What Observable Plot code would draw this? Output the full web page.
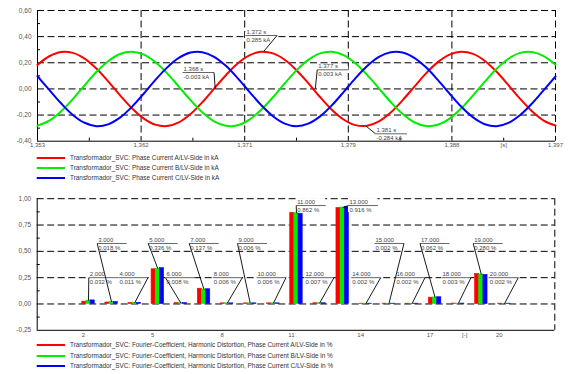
<!DOCTYPE html>
<html>
<head>
<meta charset="utf-8">
<script src="https://cdn.jsdelivr.net/npm/d3@7"></script>
<script src="https://cdn.jsdelivr.net/npm/@observablehq/plot@0.6"></script>
<style>
  html, body { margin:0; padding:0; background:#fff; }
  #page { position:relative; width:568px; height:374px; overflow:hidden; background:#fff; font-family:"Liberation Sans", Arial, sans-serif; }
  .box { position:absolute; left:0; }
  .leg { position:absolute; left:0; height:10px; width:568px; }
  .leg svg { position:absolute; left:0; top:0; }
  .leg span { position:absolute; left:70px; top:0; line-height:10px; font-size:6.4px; color:#333; white-space:nowrap; }
</style>
</head>
<body>
<div id="page"></div>
<script>
// ---------------- DATA: top chart (phase currents, kA) ----------------
const times = [1.353,1.354,1.355,1.356,1.357,1.358,1.359,1.360,1.361,1.362,1.363,1.364,1.365,1.366,1.367,
  1.368,1.369,1.370,1.371,1.372,1.373,1.374,1.375,1.376,1.377,1.378,1.379,1.380,1.381,1.382,
  1.383,1.384,1.385,1.386,1.387,1.388,1.389,1.390,1.391,1.392,1.393,1.394,1.395,1.396,1.397];
const currentA = [0.184,0.250,0.283,0.276,0.232,0.156,0.058,-0.047,-0.146,-0.225,-0.273,-0.284,-0.256,-0.192,-0.102,
  0.002,0.105,0.195,0.257,0.284,0.272,0.223,0.143,0.044,-0.062,-0.159,-0.234,-0.277,-0.282,-0.249,
  -0.181,-0.088,0.016,0.119,0.205,0.263,0.285,0.268,0.214,0.131,0.029,-0.076,-0.171,-0.242,-0.280];
const currentB = [-0.281,-0.243,-0.172,-0.078,0.027,0.129,0.212,0.267,0.285,0.264,0.206,0.121,0.018,-0.086,-0.179,
  -0.248,-0.282,-0.278,-0.235,-0.160,-0.064,0.042,0.142,0.222,0.272,0.284,0.258,0.196,0.107,0.004,
  -0.100,-0.190,-0.255,-0.284,-0.274,-0.227,-0.148,-0.049,0.056,0.154,0.231,0.276,0.283,0.251,0.185];
const currentC = [0.097,-0.007,-0.110,-0.199,-0.259,-0.285,-0.271,-0.220,-0.139,-0.039,0.067,0.163,0.237,0.278,0.281,
  0.246,0.177,0.083,-0.022,-0.124,-0.209,-0.265,-0.285,-0.266,-0.210,-0.126,-0.024,0.081,0.175,0.245,
  0.281,0.279,0.238,0.165,0.069,-0.036,-0.137,-0.218,-0.270,-0.285,-0.260,-0.200,-0.112,-0.009,0.095];
const topSeriesNames = ["Transformador_SVC: Phase Current A/LV-Side in kA",
  "Transformador_SVC: Phase Current B/LV-Side in kA",
  "Transformador_SVC: Phase Current C/LV-Side in kA"];
const topXTicks = [1.353, 1.3618, 1.3706, 1.3794, 1.3882, 1.397];
const topXLabels = ["1,353","1,362","1,371","1,379","1,388","1,397"];
const topXMinor = [1.3574, 1.3662, 1.375, 1.3838, 1.3926];
const topYTicks = [-0.4, -0.2, 0, 0.2, 0.4, 0.6];
const topYLabels = ["-0,40","-0,20","0,00","0,20","0,40","0,60"];
const topYMinor = [-0.3, -0.1, 0.1, 0.3, 0.5];
const topUnit = "[s]";
// markers read on the curves
const annotTimes = [1.3722, 1.3681, 1.3766, 1.3809];
const annotValues = [0.285, -0.003, 0.003, -0.284];

// ---------------- DATA: bottom chart (harmonic distortion, %) ----------------
const harmonics = [2,3,4,5,6,7,8,9,10,11,12,13,14,15,16,17,18,19,20];
const hdA = [0.022,0.014,0.010,0.330,0.008,0.145,0.006,0.006,0.006,0.866,0.007,0.912,0.003,0.003,0.003,0.060,0.004,0.285,0.003];
const hdB = [0.032,0.018,0.011,0.336,0.008,0.137,0.006,0.006,0.006,0.862,0.007,0.916,0.002,0.002,0.002,0.062,0.003,0.280,0.002];
const hdC = [0.034,0.018,0.011,0.340,0.008,0.140,0.006,0.006,0.006,0.856,0.007,0.922,0.003,0.003,0.003,0.064,0.004,0.277,0.003];
const hdLabelValues = [0.032,0.018,0.011,0.336,0.008,0.137,0.006,0.006,0.006,0.862,0.007,0.916,0.002,0.002,0.002,0.062,0.003,0.280,0.002];
const botSeriesNames = ["Transformador_SVC: Fourier-Coefficient, Harmonic Distortion, Phase Current A/LV-Side in %",
  "Transformador_SVC: Fourier-Coefficient, Harmonic Distortion, Phase Current B/LV-Side in %",
  "Transformador_SVC: Fourier-Coefficient, Harmonic Distortion, Phase Current C/LV-Side in %"];
const botXTicks = [2,5,8,11,14,17,20];
const botXLabels = ["2","5","8","11","14","17","20"];
const botUnit = "[-]";
const botYTicks = [-0.25, 0, 0.25, 0.5, 0.75, 1.0];
const botYLabels = ["-0,25","0,00","0,25","0,50","0,75","1,00"];
const botYMinor = [-0.125, 0.125, 0.375, 0.625, 0.875];

// ---------------- LAYOUT (label placement, not data) ----------------
const topLabelX = [1.37067, 1.36532, 1.37676, 1.38171];
const topLabelY = [0.4087, 0.1256, 0.1463, -0.3434];
const topLabelSide = ["R","R","L","L"];
const botLabelX = [2.233,2.597,3.518,4.804,5.552,6.578,7.600,8.668,9.491,11.209,11.568,13.472,13.589,14.597,15.506,16.567,17.497,18.869,19.544];
const botLabelY = [0.25,0.5745,0.25,0.5745,0.25,0.5745,0.25,0.5745,0.25,0.935,0.25,0.935,0.25,0.5745,0.25,0.5745,0.25,0.5745,0.25];
const botLabelSide = ["L","L","R","L","L","L","R","L","R","L","R","L","R","R","R","L","R","L","R"];

const COLORS = ["#ff0000", "#00ee00", "#0000ff"];
const FONT = '"Liberation Sans", Arial, sans-serif';
const DASH = "7,3.5";
const LABEL = "#555";
const page = document.getElementById("page");

function place(el, y) {
  const d = document.createElement("div");
  d.className = "box"; d.style.top = y + "px";
  d.appendChild(el); page.appendChild(d);
}
function legend(names, rowsY) {
  names.forEach((n, i) => {
    const row = document.createElement("div");
    row.className = "leg"; row.style.top = (rowsY[i] - 5) + "px";
    row.innerHTML = `<svg width="70" height="10"><line x1="36.7" x2="65" y1="5" y2="5" stroke="${COLORS[i]}" stroke-width="2"/></svg><span>${n}</span>`;
    page.appendChild(row);
  });
}

// ---------------- TOP CHART ----------------
const T = {x0:1.353, x1:1.397, y0:-0.4, y1:0.6, w:568, h:152, ml:37, mr:13, mt:10, mb:11.3};
const sxT = (T.x1 - T.x0) / (T.w - T.ml - T.mr);
const syT = (T.y1 - T.y0) / (T.h - T.mt - T.mb);
const wT = 31.5 * sxT;
const annots = annotTimes.map((t, i) => ({t, v: annotValues[i], lx: topLabelX[i], ly: topLabelY[i], side: topLabelSide[i]}));
const curves = [currentA, currentB, currentC].map((vals, j) =>
  Plot.line(times.map((t, i) => ({t, v: vals[i]})), {x: "t", y: "v", stroke: COLORS[j], strokeWidth: 2, curve: "catmull-rom"}));

const topChart = Plot.plot({
  width: T.w, height: T.h,
  marginLeft: T.ml, marginRight: T.mr, marginTop: T.mt, marginBottom: T.mb,
  x: {domain: [T.x0, T.x1], axis: null},
  y: {domain: [T.y0, T.y1], axis: null},
  style: {fontFamily: FONT, fontSize: "6.5px", overflow: "visible", background: "transparent"},
  marks: [
    Plot.ruleY(topYTicks.filter(v => v > T.y0), {stroke: "#000", strokeWidth: 1, strokeDasharray: DASH}),
    Plot.ruleX(topXTicks.filter(v => v > T.x0), {stroke: "#000", strokeWidth: 1, strokeDasharray: DASH}),
    Plot.ruleX([T.x0], {stroke: "#000", strokeWidth: 1}),
    Plot.ruleY([T.y0], {stroke: "#000", strokeWidth: 1}),
    Plot.ruleX(topXMinor, {y1: () => T.y0, y2: () => T.y0 + 3 * syT, stroke: "#000"}),
    Plot.ruleY(topYMinor, {x1: () => T.x0, x2: () => T.x0 + 3 * sxT, stroke: "#000"}),
    ...curves,
    Plot.rect(annots, {x1: d => d.lx, x2: d => d.lx + wT, y1: d => d.ly - 3 * syT, y2: d => d.ly + 3 * syT, fill: "white"}),
    Plot.link(annots, {x1: d => d.lx, x2: d => d.lx + wT, y1: d => d.ly, y2: d => d.ly, stroke: "#555", strokeWidth: 0.9}),
    Plot.link(annots, {x1: d => d.side === "R" ? d.lx + wT : d.lx, y1: d => d.ly, x2: d => d.t, y2: d => d.v, stroke: "#000", strokeWidth: 0.9}),
    Plot.text(annots, {x: d => d.lx, y: d => d.ly, text: d => d.t.toFixed(3) + " s", textAnchor: "start", dx: 1, dy: -3.8, fontSize: 6, fill: "#444"}),
    Plot.text(annots, {x: d => d.lx, y: d => d.ly, text: d => d.v.toFixed(3) + " kA", textAnchor: "start", dx: 1, dy: 4.4, fontSize: 6, fill: "#444"}),
    Plot.text(topYTicks.map((v, i) => ({v, s: topYLabels[i]})), {frameAnchor: "left", y: "v", text: "s", textAnchor: "end", dx: -6, fontSize: 6.5, fill: LABEL}),
    Plot.text(topXTicks.map((v, i) => ({v, s: topXLabels[i]})), {frameAnchor: "bottom", x: "v", text: "s", dy: 6, fontSize: 6, fill: LABEL}),
    Plot.text([topUnit], {frameAnchor: "bottom", x: () => topXMinor[topXMinor.length - 1], text: d => d, dy: 6, fontSize: 6, fill: LABEL})
  ]
});
place(topChart, 0);
legend(topSeriesNames, [157.7, 167.7, 177.7]);

// ---------------- BOTTOM CHART ----------------
const B = {x0:0, x1:22.4, y0:-0.25, y1:1.0, w:568, h:152, ml:36.7, mr:13.7, mt:10.2, mb:10.2, offset:188};
const sxB = (B.x1 - B.x0) / (B.w - B.ml - B.mr);
const syB = (B.y1 - B.y0) / (B.h - B.mt - B.mb);
const wB = 29.5 * sxB;
const barW = 0.18, barStart = -0.05, groupMid = barStart + 1.5 * barW;
const bars = [hdA, hdB, hdC].map((vals, j) =>
  Plot.rect(harmonics.map((h, i) => ({h, v: vals[i]})), {
    x1: d => d.h + barStart + j * barW, x2: d => d.h + barStart + (j + 1) * barW,
    y1: () => 0, y2: d => d.v, fill: COLORS[j], stroke: COLORS[j], strokeWidth: 0.6}));
const blabs = harmonics.map((h, i) => ({h, v: hdLabelValues[i], lx: botLabelX[i], ly: botLabelY[i], side: botLabelSide[i]}));

const botChart = Plot.plot({
  width: B.w, height: B.h,
  marginLeft: B.ml, marginRight: B.mr, marginTop: B.mt, marginBottom: B.mb,
  x: {domain: [B.x0, B.x1], axis: null},
  y: {domain: [B.y0, B.y1], axis: null},
  style: {fontFamily: FONT, fontSize: "6.5px", overflow: "visible", background: "transparent"},
  marks: [
    Plot.ruleY(botYTicks.filter(v => v > B.y0), {stroke: "#000", strokeWidth: 1, strokeDasharray: DASH}),
    Plot.ruleX([B.x1], {stroke: "#000", strokeWidth: 1, strokeDasharray: DASH}),
    Plot.ruleX([B.x0], {stroke: "#000", strokeWidth: 1}),
    Plot.ruleY([B.y0], {stroke: "#000", strokeWidth: 1}),
    Plot.ruleY(botYMinor, {x1: () => B.x0, x2: () => B.x0 + 3 * sxB, stroke: "#000"}),
    ...bars,
    Plot.rect(blabs, {x1: d => d.lx, x2: d => d.lx + wB, y1: d => d.ly - 7 * syB, y2: d => d.ly + 7 * syB, fill: "white"}),
    Plot.link(blabs, {x1: d => d.lx, x2: d => d.lx + wB, y1: d => d.ly, y2: d => d.ly, stroke: "#555", strokeWidth: 0.9}),
    Plot.link(blabs, {x1: d => d.side === "R" ? d.lx + wB : d.lx, y1: d => d.ly, x2: d => d.h + groupMid, y2: d => d.v, stroke: "#000", strokeWidth: 0.9}),
    Plot.text(blabs, {x: d => d.lx, y: d => d.ly, text: d => d.h.toFixed(3), textAnchor: "start", dx: 1, dy: -3.8, fontSize: 6, fill: "#444"}),
    Plot.text(blabs, {x: d => d.lx, y: d => d.ly, text: d => d.v.toFixed(3) + " %", textAnchor: "start", dx: 1, dy: 4.4, fontSize: 6, fill: "#444"}),
    Plot.text(botYTicks.map((v, i) => ({v, s: botYLabels[i]})), {frameAnchor: "left", y: "v", text: "s", textAnchor: "end", dx: -6, fontSize: 6.5, fill: LABEL}),
    Plot.text(botXTicks.map((v, i) => ({v, s: botXLabels[i]})), {frameAnchor: "bottom", x: "v", text: "s", dy: 6.5, fontSize: 6, fill: LABEL}),
    Plot.text([botUnit], {frameAnchor: "bottom", x: () => (botXTicks[5] + botXTicks[6]) / 2, text: d => d, dy: 6.5, fontSize: 6, fill: LABEL})
  ]
});
place(botChart, B.offset);
legend(botSeriesNames, [345.3, 355.5, 365.7]);
</script>
</body>
</html>
